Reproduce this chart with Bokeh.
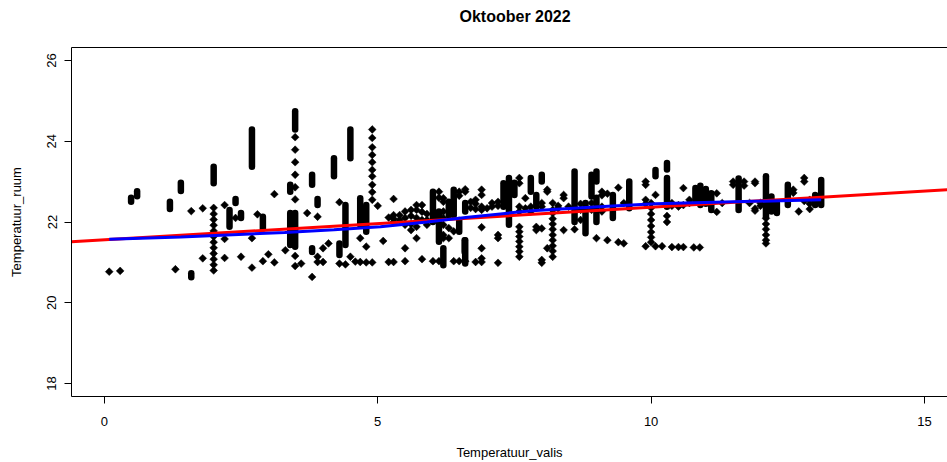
import math
from bokeh.plotting import figure
from bokeh.models import Range1d, FixedTicker, LinearAxis
from bokeh.embed import file_html
from bokeh.resources import INLINE

# ---- data ----
# columns of separate points: x value and the y values at that x
dot_x = [0.09, 0.29, 1.30, 1.59, 1.80, 2.00, 2.20, 2.40, 2.50, 2.70, 2.80, 2.90, 3.00,
         3.11, 3.31, 3.49, 3.60, 3.71, 3.80, 3.90, 4.00, 4.10, 4.30, 4.41, 4.50, 4.59,
         4.68, 4.79, 4.90, 5.00, 5.10, 5.20, 5.29, 5.40, 5.50, 5.61, 5.71, 5.81, 5.90,
         6.01, 6.12, 6.20, 6.30, 6.39, 6.49, 6.60, 6.70, 6.79, 6.90, 7.00, 7.09, 7.20,
         7.59, 7.70, 7.80, 7.90, 8.00, 8.10, 8.20, 8.30, 8.40, 8.49, 8.60, 8.71, 8.91,
         9.00, 9.10, 9.20, 9.40, 9.50, 9.90, 10.00, 10.08, 10.20, 10.29, 10.38, 10.50,
         10.59, 10.70, 10.78, 10.89, 11.20, 11.30, 11.50, 11.70, 11.80, 11.90, 12.00,
         12.10, 12.60, 12.70, 12.80, 12.90]
dot_y = [
    [20.77], [20.79], [20.83], [22.27], [22.34, 21.10],
    [22.35, 22.20, 22.06, 21.92, 21.78, 21.64, 21.50, 21.36, 21.22, 21.08, 20.94, 20.80],
    [22.42, 21.58, 21.11], [22.10], [21.14], [21.60, 20.87], [22.19], [21.03], [21.20],
    [22.69, 21.00], [21.30],
    [24.10, 23.79, 23.48, 23.17, 22.86, 22.56, 21.16, 20.91],
    [20.97], [22.22], [20.64], [22.13, 21.14, 21.01], [21.01, 21.35], [21.47],
    [22.49, 20.97], [20.95], [21.14], [21.02], [21.60, 21.01], [21.39, 21.00],
    [24.29, 24.08, 23.85, 23.66, 23.48, 23.29, 23.13, 22.92, 22.74, 22.55, 21.00],
    [22.40], [21.53], [22.11, 21.01], [22.57, 22.17, 22.08, 22.00, 21.01], [22.17, 22.05],
    [22.26, 22.10, 21.93, 21.35, 21.03], [22.30, 22.15, 21.95, 21.80],
    [22.42, 22.30, 22.10, 21.88, 21.60], [22.42, 22.25, 22.05, 21.08], [22.20, 22.05, 21.93],
    [21.03], [22.75, 22.60, 21.03], [22.59, 22.50, 22.26, 22.10, 21.93, 21.68, 21.60],
    [21.85, 21.60], [21.77, 21.03], [22.75, 22.65, 21.03], [22.81, 22.75, 21.03],
    [22.50, 22.35], [22.55, 22.45, 22.32, 21.01],
    [22.80, 22.67, 22.38, 22.30, 21.87, 21.35, 21.10, 21.01],
    [22.34], [22.47, 22.38], [22.50, 22.40, 21.68, 21.60, 20.99],
    [23.09, 22.96, 22.38, 22.26, 21.88, 21.76, 21.64, 21.52, 21.39, 21.27, 21.14],
    [22.59, 22.34], [22.38, 22.26], [21.88, 21.80], [22.47, 22.38, 21.84, 21.06, 20.99],
    [22.80, 22.75, 21.35],
    [22.47, 22.30, 22.22, 22.08, 21.95, 21.82, 21.68, 21.55, 21.41, 21.28, 21.14],
    [22.40, 22.34], [22.67, 22.59, 21.80], [22.38], [21.82], [22.45, 22.30, 22.05],
    [22.47, 22.30], [21.60], [22.75, 22.66, 22.38, 22.26], [22.70, 21.55], [22.85, 21.50],
    [22.47, 21.47], [23.00, 22.92, 22.55, 22.45, 21.40],
    [22.47, 22.35, 22.20, 22.05, 21.90, 21.75, 21.62, 21.50],
    [22.67, 21.40], [21.40], [22.15, 22.00], [22.47, 22.40, 21.38], [22.42, 22.38, 21.38],
    [22.84, 22.42, 21.38], [22.55, 22.47], [21.37], [21.37], [22.71, 22.25], [22.47],
    [23.00, 22.92], [23.00, 22.90], [22.47], [23.00, 22.96, 22.33, 22.28], [22.47, 22.40],
    [22.09, 21.95, 21.82, 21.68, 21.55, 21.47], [22.80, 22.72], [22.26],
    [23.09, 23.00, 22.52], [22.55, 22.45, 22.32],
]

# dense, overlapping runs of points: x, lowest y, highest y
stack_x = [0.49, 0.60, 1.20, 1.40, 1.59, 2.00, 2.29, 2.40, 2.50, 2.70, 2.90, 3.40, 3.40,
           3.49, 3.49, 3.80, 3.80, 3.90, 4.20, 4.30, 4.41, 4.50, 4.68, 4.79, 6.01, 6.12,
           6.20, 6.30, 6.39, 6.49, 6.59, 6.60, 6.60, 7.30, 7.40, 7.50, 7.80, 7.90, 8.00,
           8.60, 8.80, 8.91, 9.00, 9.00, 9.30, 9.60, 10.08, 10.29, 10.29, 10.81, 10.90,
           11.00, 11.10, 11.60, 12.10, 12.20, 12.30, 12.50, 13.00, 13.11]
stack_lo = [22.50, 22.64, 22.32, 22.77, 20.63, 22.96, 21.88, 22.47, 22.10, 23.37, 21.84,
            22.75, 21.43, 24.29, 21.39, 22.92, 21.26, 22.42, 23.13, 21.18, 21.43, 23.58,
            21.93, 21.76, 22.00, 21.51, 20.93, 22.17, 22.17, 21.76, 21.26, 22.26, 20.97,
            22.38, 21.93, 22.67, 22.75, 22.38, 23.00, 22.00, 21.72, 22.63, 23.00, 22.00,
            22.10, 22.34, 23.13, 23.30, 22.38, 22.50, 22.42, 22.45, 22.30, 22.30, 22.13,
            22.26, 22.22, 22.42, 22.42, 22.42]
stack_hi = [22.60, 22.76, 22.50, 22.97, 20.73, 23.37, 22.30, 22.57, 22.22, 24.29, 22.13,
            22.92, 22.22, 24.74, 22.22, 23.17, 21.35, 22.57, 23.58, 21.47, 22.42, 24.29,
            22.59, 22.42, 22.75, 22.26, 21.35, 22.50, 22.80, 22.05, 21.55, 22.47, 21.55,
            22.96, 23.09, 22.97, 23.09, 22.67, 23.17, 23.25, 22.47, 23.17, 23.25, 22.60,
            22.67, 23.00, 23.29, 23.46, 23.09, 22.84, 22.90, 22.82, 22.71, 23.08, 23.13,
            22.63, 22.47, 22.92, 22.67, 23.04]

# regression line (red), read at the plot edges
red_x = [-0.6, 15.42]
red_y = [21.51, 22.80]

# smoothed line (blue)
blue_x = [0.09, 1.4, 3.3, 4.2, 5.05, 5.9, 6.65, 7.82, 9.04, 10.08, 11.51, 13.11]
blue_y = [21.57, 21.63, 21.74, 21.81, 21.88, 22.00, 22.12, 22.28, 22.38, 22.45, 22.50, 22.55]

x_ticks = [0, 5, 10, 15]
y_ticks = [18, 20, 22, 24, 26]
title_text = "Oktoober 2022"

# ---- build ----
px, py = [], []
for x, ys in zip(dot_x, dot_y):
    for y in ys:
        px.append(x)
        py.append(y)

FONT = "Liberation Sans"

p = figure(width=947, height=462, output_backend="svg", toolbar_location=None,
           x_range=Range1d(-0.6, 15.42), y_range=Range1d(17.68, 26.32),
           min_border_left=71, min_border_right=0, min_border_top=47,
           min_border_bottom=66, background_fill_color="white",
           border_fill_color="white", outline_line_color=None)

p.xgrid.visible = False
p.ygrid.visible = False

p.title.text = title_text
p.title.align = "left"
p.title.offset = 388
p.title.text_font = FONT
p.title.text_font_size = "16px"
p.title.text_font_style = "bold"
p.title.text_color = "black"
p.title.standoff = 0

for ax in (p.xaxis[0], p.yaxis[0]):
    ax.axis_line_color = "black"
    ax.axis_line_width = 1
    ax.major_tick_line_color = "black"
    ax.major_tick_out = 7
    ax.major_tick_in = 0
    ax.minor_tick_line_color = None
    ax.major_label_text_font = FONT
    ax.major_label_text_font_size = "13px"
    ax.major_label_text_color = "black"
    ax.axis_label_text_font = FONT
    ax.axis_label_text_font_size = "13px"
    ax.axis_label_text_font_style = "normal"
    ax.axis_label_text_color = "black"

p.xaxis.ticker = FixedTicker(ticks=x_ticks)
p.yaxis.ticker = FixedTicker(ticks=y_ticks)
p.xaxis.axis_label = "Temperatuur_valis"
p.yaxis.axis_label = "Temperatuur_ruum"
p.xaxis.major_label_standoff = 13
p.xaxis.axis_label_standoff = 16
p.yaxis.major_label_standoff = 8
p.yaxis.axis_label_standoff = 21
p.yaxis.major_label_orientation = "vertical"

# top edge of the box; its invisible ticks give the space under the title
top = LinearAxis(ticker=FixedTicker(ticks=x_ticks), axis_line_color="black",
                 major_tick_line_color=None, minor_tick_line_color=None,
                 major_label_overrides={t: "" for t in x_ticks},
                 major_label_text_font_size="1px", major_tick_out=23,
                 major_tick_in=0, major_label_standoff=0)
p.add_layout(top, "above")

p.segment(x0=stack_x, y0=stack_lo, x1=stack_x, y1=stack_hi,
          line_width=6.5, line_cap="round", line_color="black")
p.scatter(px, py, marker="square", angle=math.pi / 4, size=5.5,
          fill_color="black", line_color="black", line_width=0.5)

p.line(red_x, red_y, line_color="red", line_width=3)
p.line(blue_x, blue_y, line_color="blue", line_width=3)

open("out.html", "w").write(file_html(p, INLINE))
